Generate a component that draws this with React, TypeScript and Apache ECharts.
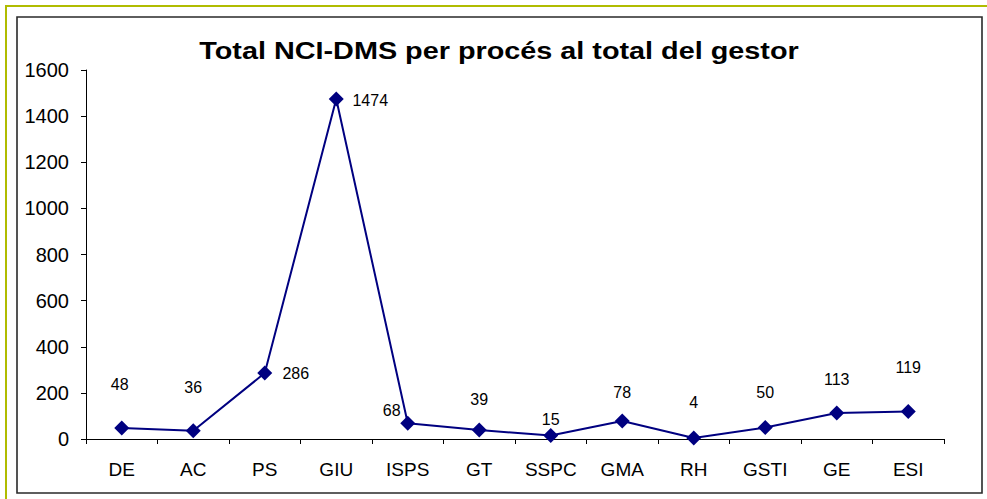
import React, { useEffect, useRef } from "react";
import * as echarts from "echarts";

const categories = ["DE", "AC", "PS", "GIU", "ISPS", "GT", "SSPC", "GMA", "RH", "GSTI", "GE", "ESI"];
const values = [48, 36, 286, 1474, 68, 39, 15, 78, 4, 50, 113, 119];
const titleText = "Total NCI-DMS per procés al total del gestor";
const labelOffsets: [number, number][] = [
  [-2, -43], [0, -43], [31, 0], [34, 1], [-16, -13], [0, -31],
  [0, -16], [0, -29], [0, -36], [0, -35], [0, -33], [0, -44],
];

const FONT = "Liberation Sans, Arial, sans-serif";

export default function App() {
  const ref = useRef<HTMLDivElement>(null);
  useEffect(() => {
    if (!ref.current) return;
    const chart = echarts.init(ref.current, null, { renderer: "svg" });
    chart.setOption({
      animation: false,
      backgroundColor: "#ffffff",
      textStyle: { fontFamily: FONT },
      graphic: [
        { type: "rect", shape: { x: 6, y: 6, width: 1000, height: 510 }, style: { fill: "none", stroke: "#b0bc00", lineWidth: 2 }, silent: true },
        { type: "rect", shape: { x: 17, y: 17, width: 965, height: 476 }, style: { fill: "none", stroke: "#2a2a2a", lineWidth: 1.6 }, silent: true },
        {
          type: "text",
          x: 499,
          y: 51,
          scaleX: 1.2,
          silent: true,
          style: {
            text: titleText,
            fontSize: 24,
            fontWeight: "bold",
            fontFamily: FONT,
            fill: "#000",
            textAlign: "center",
            textVerticalAlign: "middle",
          },
        },
      ],
      grid: { left: 86, right: 43, top: 70, bottom: 60 },
      xAxis: {
        type: "category",
        data: categories,
        boundaryGap: true,
        axisLine: { lineStyle: { color: "#000", width: 1 } },
        axisTick: { show: true, length: 5, lineStyle: { color: "#000" } },
        axisLabel: { color: "#000", fontSize: 19, margin: 21, fontFamily: FONT },
        splitLine: { show: false },
      },
      yAxis: {
        type: "value",
        min: 0,
        max: 1600,
        interval: 200,
        axisLine: { show: true, lineStyle: { color: "#000", width: 1 } },
        axisTick: { show: true, length: 5, lineStyle: { color: "#000" } },
        axisLabel: { color: "#000", fontSize: 20, margin: 17, fontFamily: FONT, formatter: (v: number) => String(v) },
        splitLine: { show: false },
      },
      series: [
        {
          type: "line",
          data: values.map((v, i) => ({
            value: v,
            label: { show: true, position: "inside", offset: labelOffsets[i] },
          })),
          symbol: "diamond",
          symbolSize: 15,
          lineStyle: { color: "#000080", width: 2 },
          itemStyle: { color: "#000080" },
          label: { show: true, color: "#000", fontSize: 16, fontFamily: FONT },
        },
      ],
    });
    return () => chart.dispose();
  }, []);
  return <div ref={ref} style={{ position: "absolute", left: 0, top: 0, width: 987, height: 499 }} />;
}
